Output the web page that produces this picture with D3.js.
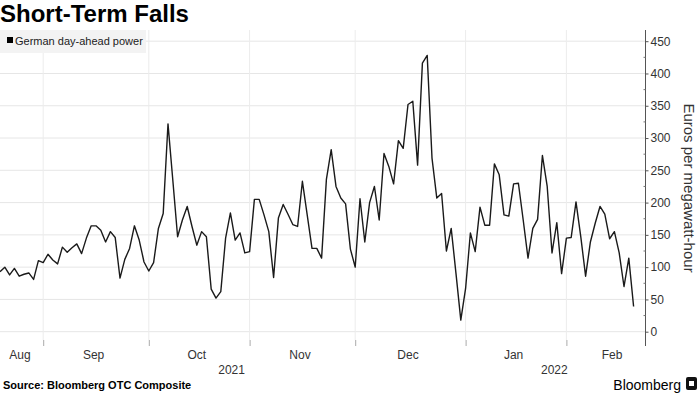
<!DOCTYPE html>
<html>
<head>
<meta charset="utf-8">
<script src="https://cdn.jsdelivr.net/npm/d3@7"></script>
<style>
  body { margin: 0; background: #fff; }
  svg text { font-family: 'Liberation Sans', Arial, sans-serif; }
</style>
</head>
<body>
<div id="chart"></div>
<script>
// German day-ahead power, euros per MWh, one value per weekday
const startDate = new Date(2021, 7, 19);
const endDate = new Date(2022, 1, 21);
const seriesName = 'German day-ahead power';
const prices = [
  93, 100, 88, 98, 86, 89, 91, 81, 110, 107, 120, 111, 105, 131, 123, 130, 136, 121, 145, 164, 164, 157, 139, 155, 146, 83,
  112, 129, 164, 142, 108, 94, 107, 160, 183, 322, 235, 147, 173, 194, 163, 134, 155, 147, 66, 52, 62, 145, 184, 142, 153, 122,
  124, 205, 205, 181, 155, 84, 176, 197, 182, 166, 163, 233, 181, 129, 129, 114, 236, 282, 225, 207, 198, 128, 100, 206, 139, 200,
  225, 173, 276, 256, 229, 296, 284, 352, 357, 258, 416, 428, 269, 207, 214, 125, 160, 90, 18, 67, 153, 124, 193, 165, 165, 260,
  243, 181, 179, 229, 230, 173, 114, 160, 174, 273, 225, 122, 169, 90, 145, 146, 201, 147, 86, 139, 168, 194, 182, 144, 155, 122, 70, 114, 39
];
const yTicks = [0, 50, 100, 150, 200, 250, 300, 350, 400, 450];
const monthNames = ['Jan', 'Feb', 'Mar', 'Apr', 'May', 'Jun', 'Jul', 'Aug', 'Sep', 'Oct', 'Nov', 'Dec'];
const title = 'Short-Term Falls';
const yTitle = 'Euros per megawatt-hour';
const source = 'Source: Bloomberg OTC Composite';

const width = 700, height = 393;
const plotTop = 30, plotBottom = 340, axisX = 645.5;

const isWeekday = (d) => d.getDay() > 0 && d.getDay() < 6;
const days = d3.timeDay.range(startDate, d3.timeDay.offset(endDate, 1)).filter(isWeekday);
const data = days.map((d, i) => ({ date: d, i: i, value: prices[i] }));

// weekday index of any date relative to the first point (can be negative)
function bizIndex(date) {
  if (date >= startDate) {
    return d3.timeDay.range(startDate, date).filter(isWeekday).length;
  }
  return -d3.timeDay.range(date, startDate).filter(isWeekday).length;
}

const x = d3.scaleLinear().domain([0, days.length - 1]).range([0, 633.6]);
const y = d3.scaleLinear().domain([0, 450]).range([331.7, 41.2]);

const svg = d3.select('#chart').append('svg')
  .attr('width', width)
  .attr('height', height);

// month boundaries (only months that hold data)
const months = d3.timeMonth.range(d3.timeMonth.floor(startDate), endDate);
const monthInfo = months.map((m) => {
  const next = d3.timeMonth.offset(m, 1);
  const a = bizIndex(m), b = bizIndex(next);
  return { date: m, start: a, mid: (a + b - 1) / 2 };
});
const monthStarts = monthInfo.filter((m) => m.start > 0);

// grid
svg.append('g')
  .selectAll('line')
  .data(yTicks)
  .enter()
  .append('line')
  .attr('x1', 0).attr('x2', axisX)
  .attr('y1', (d) => y(d)).attr('y2', (d) => y(d))
  .attr('stroke', '#e6e6e6').attr('stroke-width', 1);

svg.append('g')
  .selectAll('line')
  .data(monthStarts)
  .enter()
  .append('line')
  .attr('x1', (d) => x(d.start)).attr('x2', (d) => x(d.start))
  .attr('y1', plotTop).attr('y2', plotBottom)
  .attr('stroke', '#ececec').attr('stroke-width', 1);

// x axis ticks
const xAxis = svg.append('g')
  .attr('transform', 'translate(0,' + plotBottom + ')')
  .call(d3.axisBottom(x).tickValues(monthStarts.map((d) => d.start)).tickSize(6).tickFormat(''));
xAxis.select('.domain').remove();
xAxis.selectAll('line').attr('stroke', '#aaa');

svg.append('g')
  .selectAll('text')
  .data(monthInfo)
  .enter()
  .append('text')
  .attr('x', (d) => Math.min(Math.max(x(d.mid), 20), 630))
  .attr('y', 359)
  .attr('text-anchor', 'middle')
  .attr('font-size', 12)
  .attr('fill', '#333')
  .text((d) => monthNames[d.date.getMonth()]);

// year labels centred on the span of each year
const years = d3.groups(data, (d) => d.date.getFullYear());
svg.append('g')
  .selectAll('text')
  .data(years)
  .enter()
  .append('text')
  .attr('x', (d) => {
    const first = d[1][0].i, last = d[1][d[1].length - 1].i;
    const a = first === 0 ? 0 : x(first - 0.5);
    const b = last === days.length - 1 ? axisX : x(last + 0.5);
    return (a + b) / 2;
  })
  .attr('y', 374)
  .attr('text-anchor', 'middle')
  .attr('font-size', 12)
  .attr('fill', '#333')
  .text((d) => d[0]);

// y axis
svg.append('line')
  .attr('x1', axisX).attr('x2', axisX)
  .attr('y1', plotTop).attr('y2', plotBottom + 6)
  .attr('stroke', '#555');

const yAxis = svg.append('g')
  .attr('transform', 'translate(' + axisX + ',0)')
  .call(d3.axisRight(y).tickValues(yTicks).tickSize(3).tickPadding(2));
yAxis.select('.domain').remove();
yAxis.selectAll('line').attr('stroke', '#555');
yAxis.selectAll('text')
  .attr('font-size', 12)
  .attr('fill', '#333')
  .style('font-family', "'Liberation Sans', Arial, sans-serif");

svg.append('g')
  .selectAll('line')
  .data(d3.range(25, 450, 50))
  .enter()
  .append('line')
  .attr('x1', axisX - 2).attr('x2', axisX)
  .attr('y1', (d) => y(d)).attr('y2', (d) => y(d))
  .attr('stroke', '#777');

svg.append('text')
  .attr('transform', 'translate(684,188) rotate(90)')
  .attr('text-anchor', 'middle')
  .attr('font-size', 15)
  .attr('fill', '#333')
  .text(yTitle);

// line
const line = d3.line()
  .x((d) => x(d.i))
  .y((d) => y(d.value));

svg.append('path')
  .datum(data)
  .attr('fill', 'none')
  .attr('stroke', '#1a1a1a')
  .attr('stroke-width', 1.4)
  .attr('stroke-linejoin', 'round')
  .attr('d', line);

// title
svg.append('text')
  .attr('x', 0).attr('y', 22)
  .attr('font-size', 24)
  .attr('font-weight', 'bold')
  .attr('fill', '#000')
  .text(title);

// legend
const legend = svg.append('g');
legend.append('rect')
  .attr('x', 0).attr('y', 30)
  .attr('width', 146).attr('height', 23)
  .attr('fill', '#f3f3f3');
legend.append('rect')
  .attr('x', 7).attr('y', 37)
  .attr('width', 6).attr('height', 6)
  .attr('fill', '#000');
legend.append('text')
  .attr('x', 15).attr('y', 45)
  .attr('font-size', 11)
  .attr('fill', '#222')
  .text(seriesName);

// footer
svg.append('text')
  .attr('x', 3).attr('y', 389)
  .attr('font-size', 11)
  .attr('font-weight', 'bold')
  .attr('fill', '#000')
  .text(source);

svg.append('text')
  .attr('x', 681).attr('y', 390)
  .attr('text-anchor', 'end')
  .attr('font-size', 14)
  .attr('fill', '#000')
  .text('Bloomberg');

const logo = svg.append('g').attr('transform', 'translate(686,377)');
logo.append('rect')
  .attr('width', 11).attr('height', 13).attr('rx', 2)
  .attr('fill', '#111');
logo.append('rect')
  .attr('x', 3).attr('y', 4).attr('width', 5).attr('height', 5)
  .attr('fill', '#fff');
</script>
</body>
</html>
